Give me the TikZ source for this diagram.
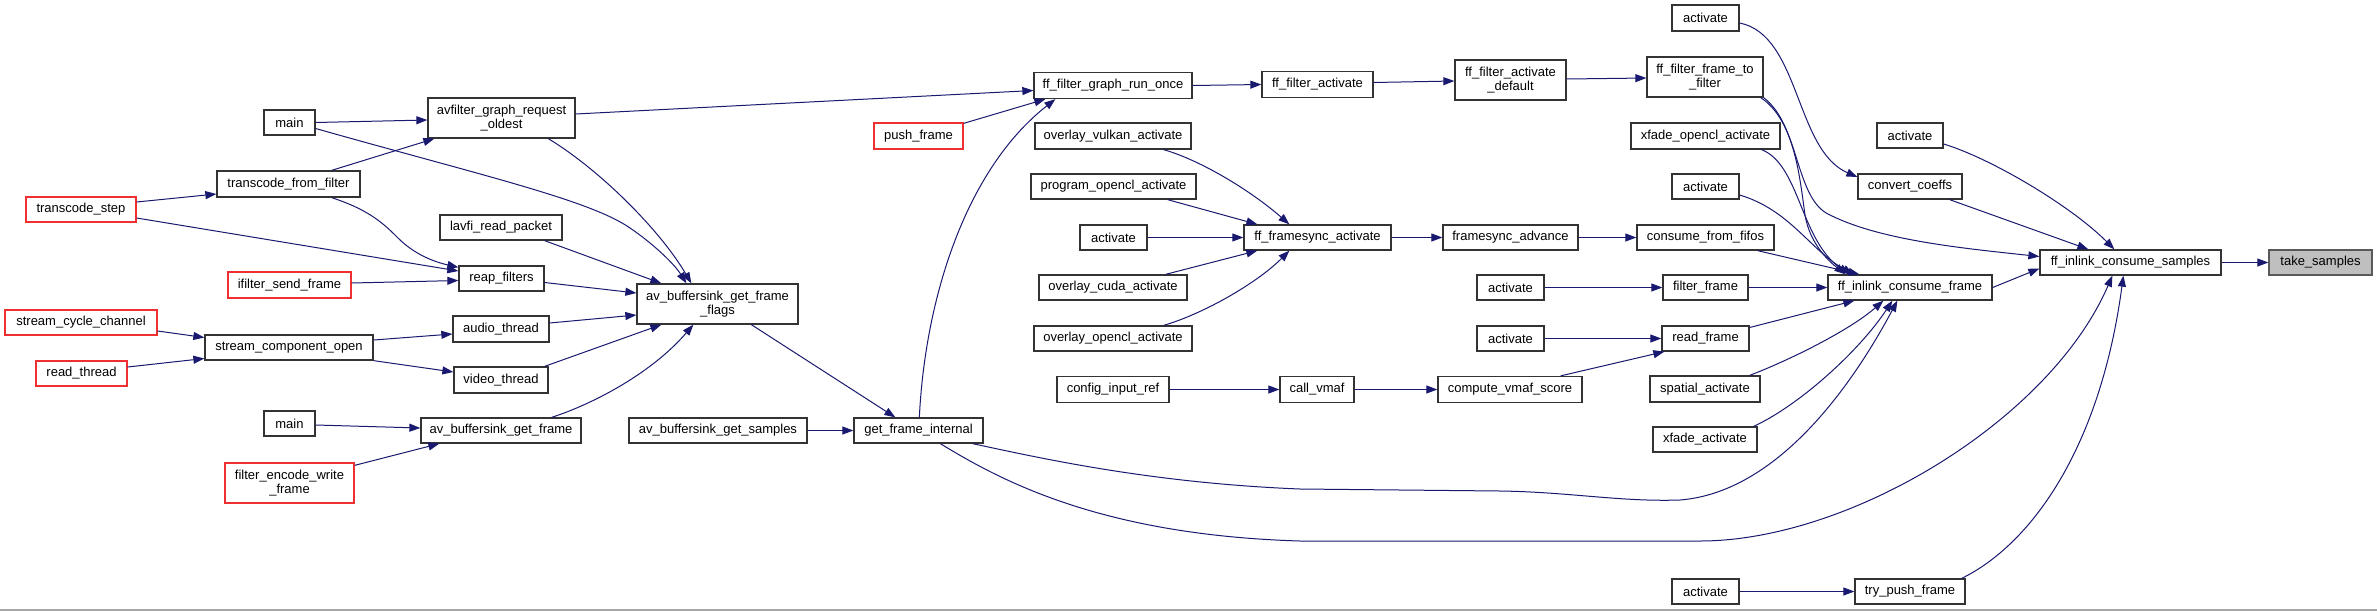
\documentclass[tikz,border=0pt]{standalone}
\usepackage{fontspec}
\setmainfont{Liberation Sans}
\usetikzlibrary{arrows.meta,calc}
\definecolor{edgeblue}{HTML}{191970}
\definecolor{redbox}{HTML}{F03030}
\tikzset{
  fn/.style={draw=black!80, line width=1.3pt, fill=white, inner sep=0pt, align=center,
             font=\fontsize{13}{14}\selectfont, text=black},
  fnred/.style={fn, draw=redbox},
  fngray/.style={fn, fill=black!25, draw=black!65},
  sz/.style 2 args={minimum width=#1pt, minimum height=#2pt},
  call/.style={draw=edgeblue, line width=1pt, -{Triangle[length=11pt,width=8pt]}},
}
\begin{document}
\begin{tikzpicture}[x=1pt,y=-1pt]
\useasboundingbox (0,0) rectangle (2377,611);
\fill[white] (0,0) rectangle (2377,611);
\draw[black!35, line width=2pt] (0,610) -- (2377,610);

% nodes
\node[fn,sz={51}{25}] (mainA) at (289.5,122.5) {main};
\node[fn,sz={147}{40}] (agro) at (501.5,118) {avfilter\_graph\_request\\\_oldest};
\node[fn,sz={143}{26}] (tff) at (288.5,184) {transcode\_from\_filter};
\node[fnred,sz={110}{25}] (tstep) at (81,209.5) {transcode\_step};
\node[fn,sz={122}{25}] (lrp) at (501,227.5) {lavfi\_read\_packet};
\node[fn,sz={85}{25}] (reap) at (501.5,278.5) {reap\_filters};
\node[fnred,sz={123}{26}] (isf) at (289.5,285) {ifilter\_send\_frame};
\node[fnred,sz={152}{25}] (scc) at (81,322.5) {stream\_cycle\_channel};
\node[fn,sz={168}{25}] (sco) at (289,347.5) {stream\_component\_open};
\node[fnred,sz={91}{25}] (rthr) at (81.5,373.5) {read\_thread};
\node[fn,sz={96}{26}] (athr) at (501,329) {audio\_thread};
\node[fn,sz={94}{26}] (vthr) at (501,380) {video\_thread};
\node[fn,sz={51}{25}] (mainB) at (289.5,423.5) {main};
\node[fn,sz={160}{25}] (abgf) at (501,430.5) {av\_buffersink\_get\_frame};
\node[fnred,sz={129}{40}] (few) at (289.5,483) {filter\_encode\_write\\\_frame};
\node[fn,sz={161}{40}] (abgff) at (717.5,304) {av\_buffersink\_get\_frame\\\_flags};
\node[fn,sz={178}{25}] (abgs) at (718,430.5) {av\_buffersink\_get\_samples};
\node[fn,sz={129}{25}] (gfi) at (918.5,430.5) {get\_frame\_internal};
\node[fnred,sz={89}{26}] (pushf) at (918.5,136) {push\_frame};
\node[fn,sz={158}{26}] (fgro) at (1113,85.5) {ff\_filter\_graph\_run\_once};
\node[fn,sz={156}{26}] (ova) at (1113,136) {overlay\_vulkan\_activate};
\node[fn,sz={165}{25}] (poa) at (1113.5,186.5) {program\_opencl\_activate};
\node[fn,sz={67}{25}] (actM) at (1113.5,237.5) {activate};
\node[fn,sz={148}{25}] (oca) at (1113,287.5) {overlay\_cuda\_activate};
\node[fn,sz={158}{25}] (ooa) at (1113,338.5) {overlay\_opencl\_activate};
\node[fn,sz={112}{26}] (cir) at (1113,389.5) {config\_input\_ref};
\node[fn,sz={111}{26}] (ffa) at (1317.5,84.5) {ff\_filter\_activate};
\node[fn,sz={111}{40}] (ffad) at (1510.5,80) {ff\_filter\_activate\\\_default};
\node[fn,sz={116}{40}] (fftf) at (1705,77) {ff\_filter\_frame\_to\\\_filter};
\node[fn,sz={67}{26}] (actT) at (1705.5,18) {activate};
\node[fn,sz={149}{26}] (xoa) at (1705.5,136) {xfade\_opencl\_activate};
\node[fn,sz={67}{25}] (actX) at (1705.5,186.5) {activate};
\node[fn,sz={137}{25}] (cff) at (1705.5,237.5) {consume\_from\_fifos};
\node[fn,sz={147}{25}] (ffsa) at (1317.5,237.5) {ff\_framesync\_activate};
\node[fn,sz={135}{25}] (fsa) at (1510.5,237.5) {framesync\_advance};
\node[fn,sz={67}{25}] (actF) at (1510.5,287.5) {activate};
\node[fn,sz={85}{25}] (ffr) at (1705.5,287.5) {filter\_frame};
\node[fn,sz={67}{25}] (actR) at (1510.5,338.5) {activate};
\node[fn,sz={87}{25}] (rfr) at (1705.5,338.5) {read\_frame};
\node[fn,sz={74}{26}] (cvm) at (1317,389.5) {call\_vmaf};
\node[fn,sz={144}{26}] (cvs) at (1510,389.5) {compute\_vmaf\_score};
\node[fn,sz={110}{26}] (spa) at (1705,389) {spatial\_activate};
\node[fn,sz={104}{25}] (xfa) at (1705,439.5) {xfade\_activate};
\node[fn,sz={67}{25}] (actB) at (1705.5,591.5) {activate};
\node[fn,sz={66}{25}] (actC) at (1910,135.5) {activate};
\node[fn,sz={104}{25}] (cco) at (1910,186.5) {convert\_coeffs};
\node[fn,sz={181}{25}] (iics) at (2130.5,262.5) {ff\_inlink\_consume\_samples};
\node[fngray,sz={103}{25}] (take) at (2320.5,262.5) {take\_samples};
\node[fn,sz={164}{25}] (iicf) at (1910,287.5) {ff\_inlink\_consume\_frame};
\node[fn,sz={110}{25}] (tpf) at (1910,591.5) {try\_push\_frame};

% edges
\draw[call] (iics.east) -- (take.west);
\draw[call] ($(actC.east)+(0,8.5)$) .. controls (1990,158) and (2070,205) .. ($(iics.north west)+(75,0)$);
\draw[call] ($(cco.south east)+(-13,0)$) -- ($(iics.north west)+(49,0)$);
\draw[call] ($(actT.east)+(0,5)$) .. controls (1800,35) and (1795,150) .. ($(cco.west)+(0,-9.5)$);
\draw[call] (fftf.south east) .. controls (1800,125) and (1795,200) .. (1830,215) .. controls (1880,240) and (1960,248) .. ($(iics.west)+(0,-6)$);
\draw[call] ($(fftf.south east)+(-3,0)$) .. controls (1795,120) and (1800,180) .. (1805,215) .. controls (1810,245) and (1830,262) .. ($(iicf.north west)+(18,0)$);
\draw[call] ($(xoa.south east)+(-19,0)$) .. controls (1800,165) and (1800,240) .. ($(iicf.north west)+(22,0)$);
\draw[call] ($(actX.east)+(0,8.5)$) .. controls (1790,210) and (1810,250) .. ($(iicf.north west)+(26,0)$);
\draw[call] ($(cff.south east)+(-17,0)$) -- ($(iicf.north west)+(32,0)$);
\draw[call] (ffr.east) -- (iicf.west);
\draw[call] ($(rfr.east)+(0,-11)$) -- ($(iicf.south west)+(27,0)$);
\draw[call] ($(spa.north east)+(-11,0)$) .. controls (1790,360) and (1850,330) .. ($(iicf.south west)+(56,0)$);
\draw[call] ($(xfa.north east)+(-4,0)$) .. controls (1800,405) and (1860,350) .. ($(iicf.south west)+(65,0)$);
\draw[call] ($(gfi.south east)+(-11,0)$) .. controls (1040,458) and (1150,483) .. (1300,489) -- (1500,491) .. controls (1570,492) and (1620,502) .. (1680,500) .. controls (1780,492) and (1855,380) .. ($(iicf.south west)+(70,0)$);
\draw[call] ($(gfi.south west)+(87,0)$) .. controls (1000,480) and (1100,535) .. (1300,541) -- (1700,541) .. controls (1850,541) and (2050,420) .. ($(iics.south west)+(73,0)$);
\draw[call] ($(tpf.north east)+(-4,0)$) .. controls (2030,545) and (2100,450) .. ($(iics.south west)+(84,0)$);
\draw[call] (actB.east) -- (tpf.west);
\draw[call] (iicf.east) -- ($(iics.west)+(0,6)$);

\draw[call] (fsa.east) -- (cff.west);
\draw[call] (ffsa.east) -- (fsa.west);
\draw[call] (actM.east) -- (ffsa.west);
\draw[call] ($(ova.south east)+(-28,0)$) .. controls (1200,160) and (1250,190) .. ($(ffsa.north west)+(46,0)$);
\draw[call] ($(poa.south east)+(-29,0)$) -- ($(ffsa.north west)+(14,0)$);
\draw[call] ($(oca.north east)+(-22,0)$) -- ($(ffsa.south west)+(14,0)$);
\draw[call] ($(ooa.north east)+(-29,0)$) .. controls (1200,315) and (1255,285) .. ($(ffsa.south west)+(46,0)$);
\draw[call] (cir.east) -- (cvm.west);
\draw[call] (cvm.east) -- (cvs.west);
\draw[call] ($(cvs.north east)+(-22,0)$) -- ($(rfr.south west)+(3,0)$);
\draw[call] (actR.east) -- (rfr.west);
\draw[call] (actF.east) -- (ffr.west);

\draw[call] (fgro.east) -- (ffa.west);
\draw[call] ($(ffa.east)+(0,-2)$) -- ($(ffad.west)+(0,1)$);
\draw[call] ($(ffad.east)+(0,-1)$) -- ($(fftf.west)+(0,1)$);
\draw[call] ($(agro.east)+(0,-4)$) -- ($(fgro.west)+(0,5)$);
\draw[call] ($(pushf.north east)+(0,1)$) -- ($(fgro.south west)+(12,0)$);
\draw[call] ($(gfi.north west)+(66,0)$) .. controls (925,300) and (965,170) .. ($(fgro.south west)+(22,0)$);

\draw[call] ($(agro.south west)+(121,0)$) .. controls (600,170) and (660,230) .. ($(abgff.north west)+(55,0)$);
\draw[call] ($(mainA.east)+(0,6)$) .. controls (480,175) and (590,200) .. (630,228) .. controls (655,245) and (675,265) .. ($(abgff.north west)+(50,0)$);
\draw[call] ($(lrp.south east)+(-18,0)$) -- ($(abgff.north west)+(25,0)$);
\draw[call] ($(reap.east)+(0,4)$) -- ($(abgff.west)+(0,-11)$);
\draw[call] ($(athr.east)+(0,-6)$) -- ($(abgff.west)+(0,11)$);
\draw[call] ($(vthr.north east)+(-4,0)$) -- ($(abgff.south west)+(25,0)$);
\draw[call] ($(abgf.north east)+(-30,0)$) .. controls (590,405) and (650,375) .. ($(abgff.south west)+(57,0)$);
\draw[call] ($(abgff.south west)+(115,0)$) -- ($(gfi.north west)+(42,0)$);
\draw[call] (abgs.east) -- (gfi.west);

\draw[call] (mainA.east) -- ($(agro.west)+(0,2)$);
\draw[call] ($(tff.north east)+(-29,0)$) -- ($(agro.south west)+(7,0)$);
\draw[call] ($(tstep.east)+(0,-7.5)$) -- ($(tff.west)+(0,10)$);
\draw[call] ($(tstep.east)+(0,8.5)$) -- ($(reap.west)+(0,-7.5)$);
\draw[call] ($(tff.south east)+(-29,0)$) .. controls (370,210) and (385,225) .. (398,238) .. controls (415,255) and (435,262) .. ($(reap.north west)+(0,2)$);
\draw[call] ($(isf.east)+(0,-2)$) -- ($(reap.west)+(0,2)$);
\draw[call] ($(scc.east)+(0,8.5)$) -- ($(sco.west)+(0,-10)$);
\draw[call] ($(rthr.east)+(0,-6.5)$) -- ($(sco.west)+(0,11)$);
\draw[call] ($(sco.east)+(0,-7.5)$) -- ($(athr.west)+(0,5)$);
\draw[call] (sco.south east) -- ($(vthr.west)+(0,-8)$);
\draw[call] ($(mainB.east)+(0,1.5)$) -- ($(abgf.west)+(0,-2.5)$);
\draw[call] ($(few.north east)+(0,3)$) -- ($(abgf.south west)+(19,0)$);
\end{tikzpicture}
\end{document}
